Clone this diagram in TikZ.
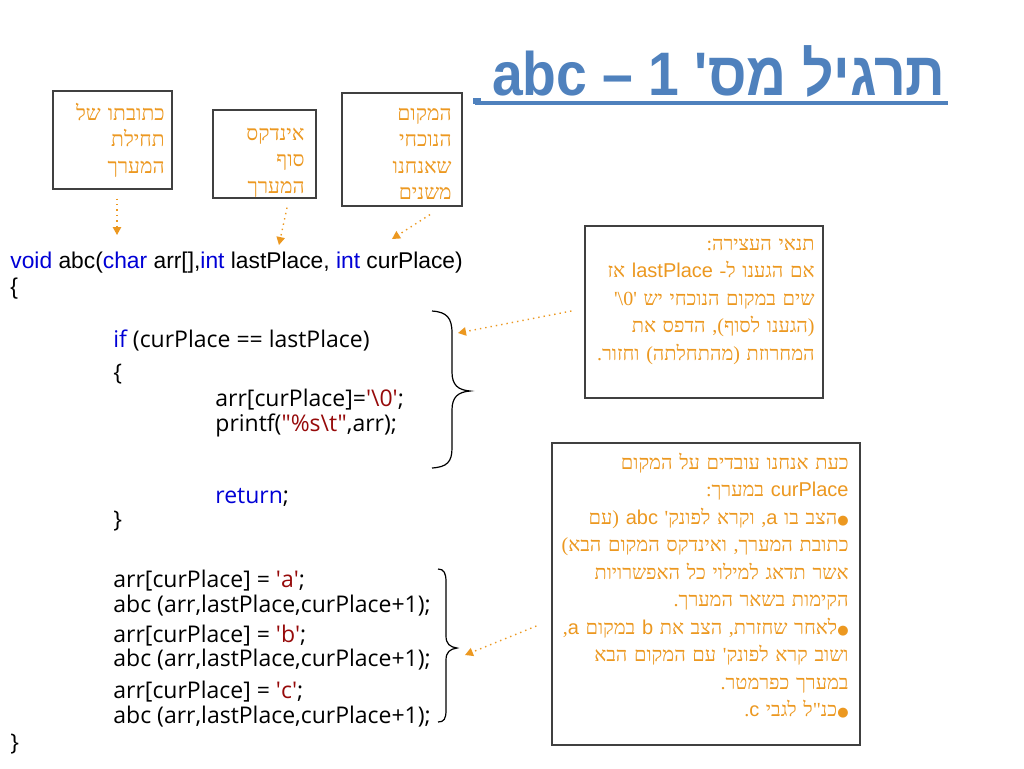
\documentclass[tikz,border=0pt]{standalone}
\usepackage{fontspec}
\usepackage{xcolor}
\usepackage{graphicx}
\usetikzlibrary{arrows,arrows.meta,positioning,fit}
\TeXXeTstate=1
\newfontfamily\hebfont[Script=Hebrew]{Liberation Serif}
\newfontfamily\titlefont[Script=Hebrew]{Liberation Sans}
\newfontfamily\latfont{Liberation Sans}
\newfontfamily\comicfont{Open Sans}
\newfontfamily\dotfont{DejaVu Sans}
\definecolor{titleblue}{RGB}{79,129,189}
\definecolor{noteorange}{RGB}{236,152,32}
\definecolor{kwblue}{RGB}{0,0,214}
\definecolor{chred}{RGB}{150,10,10}
\newcommand{\kw}[1]{\textcolor{kwblue}{#1}}
\newcommand{\chq}[1]{\textcolor{chred}{\textquotesingle#1\textquotesingle}}
\newcommand{\lat}[1]{{\latfont #1}}
\newcommand{\blt}{{\dotfont\fontsize{6.5}{8}\selectfont ●}}
\newcommand{\nullchar}{\beginL\mbox{\textquotesingle}\mbox{\textbackslash}\mbox{0}\mbox{\textquotesingle}\endL}
\tikzset{
   notebox/.style={draw=black!75, line width=0.6pt, inner sep=0pt},
   notetext/.style={text=noteorange, align=right, inner sep=0pt, anchor=base east,
                    font=\hebfont\fontsize{10.5}{13.25}\selectfont},
   widenote/.style={notetext, font=\hebfont\fontsize{10}{13.75}\selectfont},
   sigline/.style={anchor=base west, inner sep=0pt, font=\latfont\fontsize{11.4}{14}\selectfont},
   codeline/.style={anchor=base west, inner sep=0pt, font=\comicfont\fontsize{11.5}{14}\selectfont}
}
\tikzstyle{pointer} = [draw=noteorange, line width=0.7pt, dotted, -{Triangle[length=4pt,width=4.2pt]}]
\tikzstyle{bracket} = [line width=0.6pt]

\begin{document}
\begin{tikzpicture}[x=0.5pt,y=-0.5pt]
\useasboundingbox[fill=white] (0,0) rectangle (1024,768);

%% TITLE
\node[anchor=base east, inner sep=0pt, text=titleblue,
      font=\titlefont\bfseries\fontsize{30.7}{36}\selectfont] (title) at (946,95)
      {\scalebox{0.9}[1]{\beginR תרגיל מס\textquotesingle{} 1 – abc\endR}};
\draw[titleblue, line width=2pt] (475,103) -- (948,103);
\fill[titleblue] (473,98) rectangle (481,104);

%% NOTE BOXES ON TOP
\node[notebox, fit={(53,91) (172,189)}] (addrbox) {};
\node[notetext, text width=55pt] (addrtext) at (165,120) {
	\beginR כתובתו של\endR\\
	\beginR תחילת\endR\\
	\beginR המערך\endR
};

\node[notebox, fit={(213,110) (316,198)}] (endbox) {};
\node[notetext, text width=48pt] (endtext) at (305,140) {
	\beginR אינדקס\endR\\
	\beginR סוף\endR\\
	\beginR המערך\endR
};

\node[notebox, fit={(342,93) (462,206)}] (curbox) {};
\node[notetext, text width=55pt] (curtext) at (452,120) {
	\beginR המקום\endR\\
	\beginR הנוכחי\endR\\
	\beginR שאנחנו\endR\\
	\beginR משנים\endR
};

%% STOP CONDITION
\node[notebox, fit={(585,226) (823,398)}] (condbox) {};
\node[widenote, text width=115pt] (condtext) at (815,250) {
	\beginR תנאי העצירה:\endR\\
	\beginR אם הגענו ל- \lat{lastPlace} אז\endR\\
	\beginR שים במקום הנוכחי יש \nullchar\endR\\
	\beginR (הגענו לסוף), הדפס את\endR\\
	\beginR המחרוזת (מהתחלתה) וחזור.\endR
};

%% RECURSION STEP
\node[notebox, fit={(552,443) (860,745)}] (recbox) {};
\node[widenote, text width=150pt] (rectext) at (849,469) {
	\beginR כעת אנחנו עובדים על המקום\endR\\
	\beginR \lat{curPlace} במערך:\endR\\
	\beginR \blt הצב בו \lat{a}, וקרא לפונק\textquotesingle{} \lat{abc} (עם\endR\\
	\beginR כתובת המערך, ואינדקס המקום הבא)\endR\\
	\beginR אשר תדאג למילוי כל האפשרויות\endR\\
	\beginR הקימות בשאר המערך.\endR\\
	\beginR \blt לאחר שחזרת, הצב את \lat{b} במקום \lat{a},\endR\\
	\beginR ושוב קרא לפונק\textquotesingle{} עם המקום הבא\endR\\
	\beginR במערך כפרמטר.\endR\\
	\beginR \blt כנ"ל לגבי \lat{c}.\endR
};

%% CODE
\node[sigline] (sig) at (10,268) {\kw{void} abc(\kw{char} arr[],\kw{int} lastPlace, \kw{int} curPlace)};
\node[sigline] (open1) at (10,294) {\{};

% if block
\node[codeline] (ifline) at (113,347) {\kw{if} (curPlace == lastPlace)};
\node[codeline] (open2) at (113,380) {\{};
\node[codeline] (term) at (215,406) {arr[curPlace]=\chq{\textbackslash 0};};
\node[codeline] (print) at (215,431) {printf(\textcolor{chred}{"\%s\textbackslash t"},arr);};
\node[codeline] (ret) at (215,503) {\kw{return};};
\node[codeline] (close2) at (113,527) {\}};

% recursive calls
\node[codeline] (seta) at (113,587) {arr[curPlace] = \chq{a};};
\node[codeline] (calla) at (113,612) {abc (arr,lastPlace,curPlace+1);};
\node[codeline] (setb) at (113,642) {arr[curPlace] = \chq{b};};
\node[codeline] (callb) at (113,666) {abc (arr,lastPlace,curPlace+1);};
\node[codeline] (setc) at (113,698) {arr[curPlace] = \chq{c};};
\node[codeline] (callc) at (113,723) {abc (arr,lastPlace,curPlace+1);};
\node[codeline] (close1) at (10,750) {\}};

%% BRACES
\draw[bracket] (432,311) .. controls (447,312) and (452,318) .. (452,333) -- (452,372)
	.. controls (452,385) and (458,390) .. (470,391)
	.. controls (458,392) and (452,397) .. (452,410) -- (452,448)
	.. controls (452,462) and (447,467) .. (432,468);
\draw[bracket] (438,569) .. controls (444,569) and (446,573) .. (446,582) -- (446,636)
	.. controls (446,644) and (450,647) .. (457,648)
	.. controls (450,649) and (446,652) .. (446,660) -- (446,710)
	.. controls (446,719) and (444,722) .. (438,722);

%% ARROWS
\coordinate (addrtip) at (117,235);
\coordinate (endtip) at (279,245);
\coordinate (curtip) at (392,239);
\coordinate (condtip) at (458,333);
\coordinate (rectip) at (465,655);
\draw[pointer] ([shift={(4.5,9)}]addrbox.south) -- (addrtip);
\draw[pointer] ([shift={(22.5,9)}]endbox.south) -- (endtip);
\draw[pointer] ([shift={(28,8)}]curbox.south) -- (curtip);
\draw[pointer] ([shift={(-13,-1)}]condbox.west) -- (condtip);
\draw[pointer] ([shift={(-15,32)}]recbox.west) -- (rectip);
\end{tikzpicture}
\end{document}
